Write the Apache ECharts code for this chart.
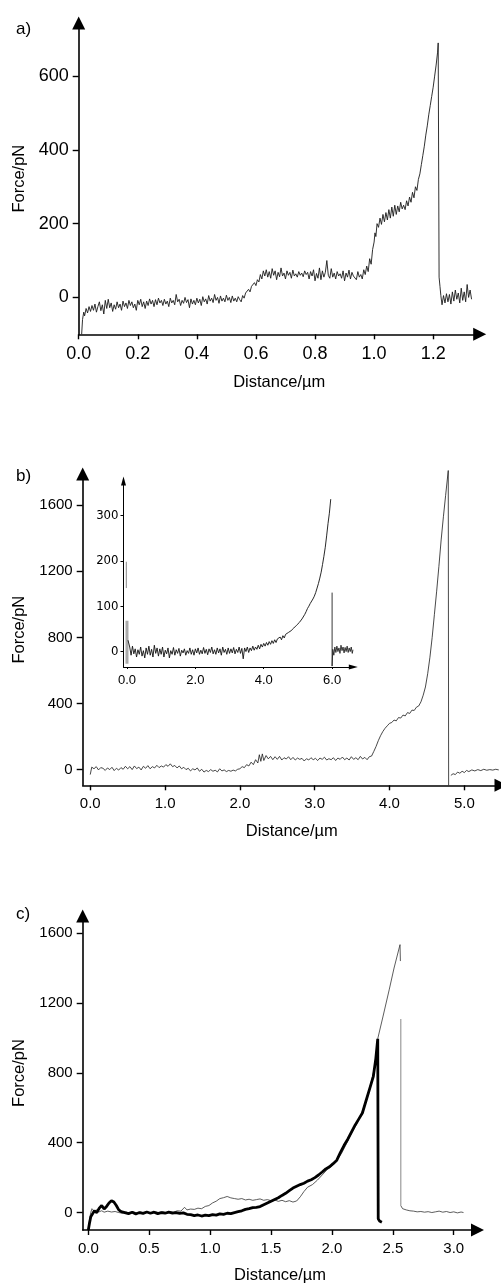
<!DOCTYPE html>
<html>
<head>
<meta charset="utf-8">
<script src="https://cdn.jsdelivr.net/npm/echarts@6/dist/echarts.min.js"></script>
<style>
html,body{margin:0;padding:0;background:#fff;}
#chart{width:501px;height:1285px;}
</style>
</head>
<body>
<div id="chart"></div>
<script>
// ---------- tick labels ----------
const ticksAx = [0, 0.2, 0.4, 0.6, 0.8, 1.0, 1.2];
const ticksAy = [0, 200, 400, 600];
const ticksBx = [0, 1, 2, 3, 4, 5];
const ticksBy = [0, 400, 800, 1200, 1600];
const ticksInsetX = [0, 2, 4, 6];
const ticksInsetY = [0, 100, 200, 300];
const ticksCx = [0, 0.5, 1.0, 1.5, 2.0, 2.5, 3.0];
const ticksCy = [0, 400, 800, 1200, 1600];

// ---------- panel a: force curve [distance µm, force pN] ----------
const curveA = [
[0.010,-100],[0.013,-60],[0.017,-40],[0.020,-50],[0.025,-30],[0.030,-42],[0.035,-25],[0.040,-38],[0.045,-22],[0.050,-35],
[0.055,-18],[0.060,-40],[0.065,-25],[0.070,-12],[0.075,-36],[0.080,-20],[0.085,-45],[0.090,-8],[0.095,-30],[0.100,-5],
[0.105,-28],[0.110,-15],[0.115,-38],[0.120,-20],[0.125,-32],[0.130,-12],[0.135,-28],[0.140,-18],[0.145,-35],[0.150,-10],
[0.155,-25],[0.160,-15],[0.165,-30],[0.170,-8],[0.175,-22],[0.180,-12],[0.185,-28],[0.190,-18],[0.195,-35],[0.200,-8],
[0.205,-20],[0.210,-5],[0.215,-25],[0.220,-12],[0.225,-30],[0.230,-10],[0.235,-22],[0.240,-4],[0.245,-18],[0.250,-8],
[0.255,-25],[0.260,-6],[0.265,-20],[0.270,-2],[0.275,-15],[0.280,-8],[0.285,-22],[0.290,-5],[0.295,-18],[0.300,-10],
[0.305,-25],[0.310,-2],[0.315,-15],[0.320,-8],[0.325,-20],[0.330,8],[0.335,-12],[0.340,-5],[0.345,-22],[0.350,-8],
[0.355,-16],[0.360,0],[0.365,-14],[0.370,-6],[0.375,-28],[0.380,-4],[0.385,-18],[0.390,-8],[0.395,-20],[0.400,-2],
[0.405,-15],[0.410,-5],[0.415,-22],[0.420,2],[0.425,-12],[0.430,-4],[0.435,-18],[0.440,5],[0.445,-10],[0.450,-2],
[0.455,-14],[0.460,8],[0.465,-8],[0.470,0],[0.475,-16],[0.480,4],[0.485,-10],[0.490,-2],[0.495,-12],[0.500,6],
[0.505,-8],[0.510,0],[0.515,-14],[0.520,4],[0.525,-10],[0.530,-2],[0.535,-12],[0.540,2],[0.545,-6],[0.550,-12],
[0.555,5],[0.560,-2],[0.565,12],[0.570,8],[0.575,22],[0.580,15],[0.585,30],[0.590,25],[0.595,40],[0.600,32],
[0.605,48],[0.610,42],[0.615,62],[0.620,50],[0.625,72],[0.630,58],[0.635,75],[0.640,55],[0.645,70],[0.650,52],
[0.655,78],[0.660,60],[0.665,72],[0.670,48],[0.675,68],[0.680,56],[0.685,80],[0.690,58],[0.695,66],[0.700,50],
[0.705,72],[0.710,60],[0.715,68],[0.720,52],[0.725,74],[0.730,58],[0.735,64],[0.740,55],[0.745,70],[0.750,60],
[0.755,66],[0.760,56],[0.765,72],[0.770,62],[0.775,68],[0.780,50],[0.785,70],[0.790,58],[0.795,75],[0.800,45],
[0.805,65],[0.810,52],[0.815,80],[0.820,48],[0.825,72],[0.830,55],[0.835,68],[0.840,100],[0.845,60],[0.850,52],
[0.855,78],[0.860,55],[0.865,66],[0.870,50],[0.875,70],[0.880,58],[0.885,64],[0.890,52],[0.895,72],[0.900,45],
[0.905,66],[0.910,55],[0.915,74],[0.920,50],[0.925,68],[0.930,58],[0.935,62],[0.940,48],[0.945,70],[0.950,55],
[0.955,62],[0.960,50],[0.965,75],[0.970,62],[0.975,85],[0.980,70],[0.985,105],[0.990,90],[0.995,130],[1.000,150],
[1.003,175],[1.006,165],[1.010,200],[1.015,190],[1.020,215],[1.025,198],[1.030,225],[1.035,205],[1.040,230],[1.045,210],
[1.050,238],[1.055,215],[1.060,245],[1.065,220],[1.070,250],[1.075,225],[1.080,248],[1.085,232],[1.090,258],[1.095,240],
[1.100,250],[1.105,238],[1.110,262],[1.115,248],[1.120,272],[1.125,258],[1.130,285],[1.135,270],[1.140,300],[1.145,290],
[1.150,320],[1.155,335],[1.160,360],[1.165,385],[1.170,410],[1.175,440],[1.180,465],[1.185,495],[1.190,520],[1.195,545],
[1.200,570],[1.205,600],[1.210,630],[1.215,665],[1.217,690],[1.220,55],[1.223,30],[1.226,5],[1.230,-20],[1.235,5],
[1.240,-15],[1.245,10],[1.250,-12],[1.255,8],[1.260,-18],[1.265,15],[1.270,-10],[1.275,20],[1.280,-5],[1.285,12],
[1.290,-15],[1.295,25],[1.300,-8],[1.305,15],[1.310,-12],[1.315,35],[1.320,0],[1.325,20],[1.330,-5]
];

// ---------- panel b: main force curve ----------
const curveB = [
[0.00,-30],[0.02,15],[0.05,5],[0.08,18],[0.11,-2],[0.14,12],[0.17,8],[0.20,-5],[0.23,10],[0.26,0],
[0.29,14],[0.32,-6],[0.35,8],[0.38,-3],[0.41,12],[0.44,2],[0.47,20],[0.50,5],[0.53,18],[0.56,0],
[0.59,22],[0.62,6],[0.65,15],[0.68,-2],[0.71,20],[0.74,8],[0.77,24],[0.80,5],[0.83,18],[0.86,10],
[0.89,26],[0.92,12],[0.95,22],[0.98,15],[1.01,30],[1.04,20],[1.07,35],[1.10,18],[1.13,25],[1.16,10],
[1.19,22],[1.22,5],[1.25,14],[1.28,0],[1.31,8],[1.34,-8],[1.37,5],[1.40,-2],[1.43,10],[1.46,-10],
[1.49,2],[1.52,-15],[1.55,-5],[1.58,-12],[1.61,0],[1.64,-10],[1.67,-4],[1.70,-14],[1.73,5],[1.76,-8],
[1.79,-2],[1.82,-12],[1.85,-5],[1.88,-10],[1.91,-3],[1.94,-8],[1.97,2],[2.00,5],[2.03,18],[2.06,12],
[2.09,30],[2.12,22],[2.15,45],[2.18,30],[2.21,60],[2.24,40],[2.26,90],[2.28,50],[2.30,95],[2.32,55],
[2.35,85],[2.38,65],[2.41,80],[2.44,60],[2.47,78],[2.50,62],[2.53,80],[2.56,58],[2.59,72],[2.62,64],
[2.65,78],[2.68,60],[2.71,74],[2.74,58],[2.77,70],[2.80,62],[2.83,68],[2.86,52],[2.89,66],[2.92,58],
[2.95,72],[2.98,60],[3.01,68],[3.04,55],[3.07,70],[3.10,62],[3.13,75],[3.16,58],[3.19,66],[3.22,60],
[3.25,72],[3.28,55],[3.31,70],[3.34,62],[3.37,76],[3.40,60],[3.43,70],[3.46,58],[3.49,78],[3.52,62],
[3.55,72],[3.58,60],[3.61,80],[3.64,64],[3.67,74],[3.70,60],[3.73,78],[3.76,82],[3.79,110],[3.82,140],
[3.85,175],[3.88,205],[3.91,230],[3.94,250],[3.97,265],[4.00,280],[4.03,285],[4.06,300],[4.09,295],[4.12,315],
[4.15,312],[4.18,330],[4.21,325],[4.24,345],[4.27,340],[4.30,360],[4.33,358],[4.36,378],[4.39,385],[4.42,410],
[4.45,450],[4.48,500],[4.51,580],[4.54,680],[4.57,800],[4.60,940],[4.63,1080],[4.66,1230],[4.69,1390],[4.72,1530],
[4.75,1660],[4.785,1810],[4.79,-95],[4.80,'-'],[4.82,-35],[4.85,-25],[4.88,-30],[4.91,-15],[4.94,-22],[4.97,-10],
[5.00,-18],[5.03,-5],[5.06,-12],[5.10,-2],[5.14,-8],[5.18,0],[5.22,-6],[5.26,2],[5.30,-4],[5.34,0],
[5.38,-3],[5.42,2],[5.46,-2]
];

// ---------- panel b inset ----------
const insetSpike = [[-0.02,198],[-0.02,140]];
const insetBand = [[0.0,68],[0.0,-27]];
const insetCurve = [
[0.03,25],[0.08,10],[0.12,-8],[0.16,12],[0.20,-5],[0.24,6],[0.28,-12],[0.32,4],[0.36,-6],[0.40,10],
[0.44,-10],[0.48,2],[0.52,-14],[0.56,8],[0.60,-6],[0.64,12],[0.68,-8],[0.72,5],[0.76,-12],[0.80,14],
[0.84,-4],[0.88,8],[0.92,-10],[0.96,6],[1.00,-6],[1.04,10],[1.08,-12],[1.12,3],[1.16,-5],[1.20,8],
[1.24,-14],[1.28,2],[1.32,-6],[1.36,9],[1.40,-8],[1.44,4],[1.48,-4],[1.52,7],[1.56,-10],[1.60,3],
[1.64,-3],[1.68,6],[1.72,-8],[1.76,2],[1.80,-4],[1.84,8],[1.88,-6],[1.92,4],[1.96,-8],[2.00,6],
[2.04,-3],[2.08,8],[2.12,-6],[2.16,3],[2.20,-5],[2.24,9],[2.28,-4],[2.32,5],[2.36,-7],[2.40,6],
[2.44,-2],[2.48,10],[2.52,-5],[2.56,4],[2.60,-6],[2.64,8],[2.68,-3],[2.72,6],[2.76,-8],[2.80,10],
[2.84,-2],[2.88,5],[2.92,-6],[2.96,8],[3.00,-4],[3.04,6],[3.08,-3],[3.12,9],[3.16,-5],[3.20,5],
[3.24,-2],[3.28,10],[3.32,-4],[3.36,7],[3.40,-16],[3.44,8],[3.48,0],[3.52,10],[3.56,-2],[3.60,8],
[3.64,2],[3.68,12],[3.72,3],[3.76,10],[3.80,5],[3.84,14],[3.88,6],[3.92,16],[3.96,10],[4.00,18],
[4.04,12],[4.08,20],[4.12,14],[4.16,22],[4.20,16],[4.24,24],[4.28,18],[4.32,26],[4.36,20],[4.40,28],
[4.44,24],[4.48,32],[4.52,26],[4.56,35],[4.60,30],[4.64,38],[4.68,34],[4.72,42],[4.76,40],[4.80,46],
[4.84,44],[4.88,52],[4.92,52],[4.96,58],[5.00,60],[5.04,64],[5.08,68],[5.12,72],[5.16,76],[5.20,82],
[5.24,88],[5.28,95],[5.32,100],[5.36,106],[5.40,110],[5.44,116],[5.48,122],[5.52,130],[5.56,140],[5.60,150],
[5.64,162],[5.68,175],[5.72,192],[5.76,210],[5.80,230],[5.84,255],[5.88,282],[5.92,305],[5.96,336]
];
const insetAfter = [
[6.0,130],[6.0,-32],[6.02,5],[6.05,-8],[6.08,10],[6.11,-2],[6.14,12],[6.17,0],[6.20,8],[6.23,-4],
[6.26,14],[6.29,2],[6.32,10],[6.35,-3],[6.38,9],[6.41,0],[6.44,12],[6.47,-2],[6.50,8],[6.53,0],
[6.56,10],[6.59,-4],[6.61,4]
];

// ---------- panel c: two force curves ----------
const curveCthin = [
[0.0,-100],[0.01,-40],[0.02,0],[0.03,22],[0.05,8],[0.07,15],[0.09,5],[0.11,10],[0.13,2],[0.16,8],
[0.19,3],[0.22,6],[0.25,0],[0.28,-4],[0.31,2],[0.34,-3],[0.37,4],[0.40,-2],[0.43,3],[0.46,-5],
[0.49,2],[0.52,-2],[0.55,4],[0.58,0],[0.61,5],[0.64,-2],[0.67,6],[0.70,2],[0.73,10],[0.76,8],
[0.79,30],[0.81,15],[0.84,20],[0.87,18],[0.90,25],[0.93,22],[0.96,35],[0.99,40],[1.02,55],[1.05,65],
[1.08,80],[1.11,85],[1.14,92],[1.17,84],[1.20,80],[1.23,76],[1.26,80],[1.29,72],[1.32,76],[1.35,70],
[1.38,74],[1.41,78],[1.44,70],[1.47,74],[1.50,68],[1.53,72],[1.56,64],[1.59,70],[1.62,62],[1.65,68],
[1.68,60],[1.71,66],[1.74,90],[1.77,120],[1.80,145],[1.84,160],[1.88,185],[1.92,215],[1.96,245],[2.00,265],
[2.04,300],[2.08,340],[2.12,395],[2.16,450],[2.20,505],[2.24,560],[2.28,640],[2.32,740],[2.35,830],[2.376,995],
[2.42,1125],[2.47,1275],[2.51,1400],[2.559,1534],[2.562,1440]
];
const curveCdrop = [[2.565,1108],[2.565,40]];
const curveCtail = [
[2.565,40],[2.58,22],[2.61,15],[2.64,10],[2.67,8],[2.70,4],[2.73,6],[2.76,2],[2.79,5],[2.82,0],
[2.85,4],[2.88,8],[2.91,2],[2.94,6],[2.97,0],[3.00,4],[3.03,-2],[3.06,3],[3.08,0]
];
const curveCthick = [
[0.0,-100],[0.01,-60],[0.02,-25],[0.03,-15],[0.05,10],[0.07,0],[0.09,25],[0.11,40],[0.13,20],[0.15,35],
[0.17,55],[0.19,68],[0.21,60],[0.23,40],[0.25,15],[0.27,5],[0.30,0],[0.33,-6],[0.36,2],[0.39,-8],
[0.42,0],[0.45,-5],[0.48,3],[0.51,-4],[0.54,2],[0.57,-6],[0.60,0],[0.63,-4],[0.66,2],[0.69,-3],
[0.72,0],[0.75,-5],[0.78,-2],[0.81,-10],[0.84,-12],[0.87,-18],[0.90,-14],[0.93,-20],[0.96,-15],[0.99,-18],
[1.02,-12],[1.05,-15],[1.08,-8],[1.11,-10],[1.14,-4],[1.17,-6],[1.20,0],[1.23,5],[1.26,10],[1.29,18],
[1.32,22],[1.35,28],[1.38,30],[1.41,34],[1.44,45],[1.47,55],[1.50,65],[1.53,75],[1.56,85],[1.59,98],
[1.62,110],[1.65,125],[1.68,140],[1.71,150],[1.74,160],[1.77,168],[1.80,180],[1.83,188],[1.86,200],[1.89,215],
[1.92,232],[1.95,250],[1.98,262],[2.01,280],[2.04,300],[2.07,345],[2.10,385],[2.13,420],[2.16,460],[2.19,500],
[2.22,535],[2.25,570],[2.28,640],[2.31,710],[2.34,780],[2.36,880],[2.376,995],[2.38,-36],[2.39,-48],[2.41,-55]
];

// ---------- chart build ----------
const FONT = 'Liberation Sans, Arial, Helvetica, sans-serif';
const NARROW = 'Liberation Sans Narrow, DejaVu Sans Condensed, Arial, sans-serif';

function xAx(gi, min, max, ticks, fs, opt) {
  opt = opt || {};
  return {
    type: 'value', gridIndex: gi, min: min, max: max,
    name: opt.name || '', nameLocation: 'middle', nameGap: opt.nameGap || 36,
    nameTextStyle: {fontFamily: FONT, fontSize: 16.5, color: '#000'},
    splitLine: {show: false},
    axisLine: {onZero: false, lineStyle: {color: '#000', width: opt.lw || 1.6},
      symbol: ['none', 'triangle'], symbolSize: opt.arrow || [13, 13]},
    axisTick: {show: true, customValues: ticks, length: opt.tl || 5, lineStyle: {color: '#000', width: opt.lw || 1.4}},
    axisLabel: {customValues: ticks, fontFamily: opt.ff || FONT, fontSize: fs, color: '#000',
      margin: opt.margin || 11, formatter: v => v.toFixed(1)}
  };
}
function yAx(gi, min, max, ticks, fs, opt) {
  opt = opt || {};
  return {
    type: 'value', gridIndex: gi, min: min, max: max,
    name: opt.name || '', nameLocation: 'middle', nameGap: opt.nameGap || 48, nameRotate: 90,
    nameTextStyle: {fontFamily: FONT, fontSize: 16.5, color: '#000'},
    splitLine: {show: false},
    axisLine: {onZero: false, lineStyle: {color: '#000', width: opt.lw || 1.6},
      symbol: ['none', 'triangle'], symbolSize: opt.arrow || [13, 13]},
    axisTick: {show: true, customValues: ticks, length: opt.tl || 6, lineStyle: {color: '#000', width: opt.lw || 1.4}},
    axisLabel: {customValues: ticks, fontFamily: opt.ff || FONT, fontSize: fs, color: '#000',
      margin: opt.margin || 10, formatter: v => String(v)}
  };
}
function line(xi, data, color, width, z) {
  return {type: 'line', xAxisIndex: xi, yAxisIndex: xi, data: data, symbol: 'none',
    showSymbol: false, clip: false, animation: false, silent: true, z: z || 2,
    lineStyle: {color: color, width: width}, connectNulls: false};
}

const option = {
  animation: false,
  backgroundColor: '#fff',
  title: [
    {text: 'a)', left: 11, top: 16, textStyle: {fontFamily: FONT, fontSize: 17, fontWeight: 'normal', color: '#000'}},
    {text: 'b)', left: 11, top: 463, textStyle: {fontFamily: FONT, fontSize: 17, fontWeight: 'normal', color: '#000'}},
    {text: 'c)', left: 11, top: 901, textStyle: {fontFamily: FONT, fontSize: 17, fontWeight: 'normal', color: '#000'}}
  ],
  grid: [
    {left: 78.7, top: 23, width: 401, height: 311.3},
    {left: 82.7, top: 474, width: 418.8, height: 311.3},
    {left: 123.5, top: 481, width: 229.8, height: 186},
    {left: 82.7, top: 916, width: 394.8, height: 317}
  ],
  xAxis: [
    xAx(0, 0, 1.3575, ticksAx, 18, {name: 'Distance/µm', nameGap: 40}),
    xAx(1, -0.101, 5.49, ticksBx, 15, {name: 'Distance/µm', nameGap: 38}),
    xAx(2, -0.102, 6.62, ticksInsetX, 13, {lw: 1, arrow: [5, 9], tl: 2, margin: 7}),
    xAx(3, -0.046, 3.195, ticksCx, 15, {name: 'Distance/µm', nameGap: 37})
  ],
  yAxis: [
    yAx(0, -100, 744, ticksAy, 18, {name: 'Force/pN', nameGap: 45}),
    yAx(1, -95, 1789, ticksBy, 15, {name: 'Force/pN', nameGap: 48}),
    yAx(2, -34, 376, ticksInsetY, 13, {lw: 1, arrow: [5, 9], tl: 3, margin: 5, ff: NARROW}),
    yAx(3, -100, 1698, ticksCy, 15, {name: 'Force/pN', nameGap: 48})
  ],
  series: [
    line(0, curveA, '#1a1a1a', 0.9),
    line(1, curveB, '#1a1a1a', 0.8),
    line(2, insetSpike, '#888', 1),
    line(2, insetBand, '#aaa', 3),
    line(2, insetCurve, '#111', 0.9),
    line(2, insetAfter, '#222', 0.9),
    line(3, curveCthin, '#333', 0.8, 2),
    line(3, curveCdrop, '#aaa', 1.4, 2),
    line(3, curveCtail, '#333', 0.8, 2),
    line(3, curveCthick, '#000', 2.8, 3)
  ]
};

const chart = echarts.init(document.getElementById('chart'), null, {renderer: 'canvas'});
chart.setOption(option);
</script>
</body>
</html>
